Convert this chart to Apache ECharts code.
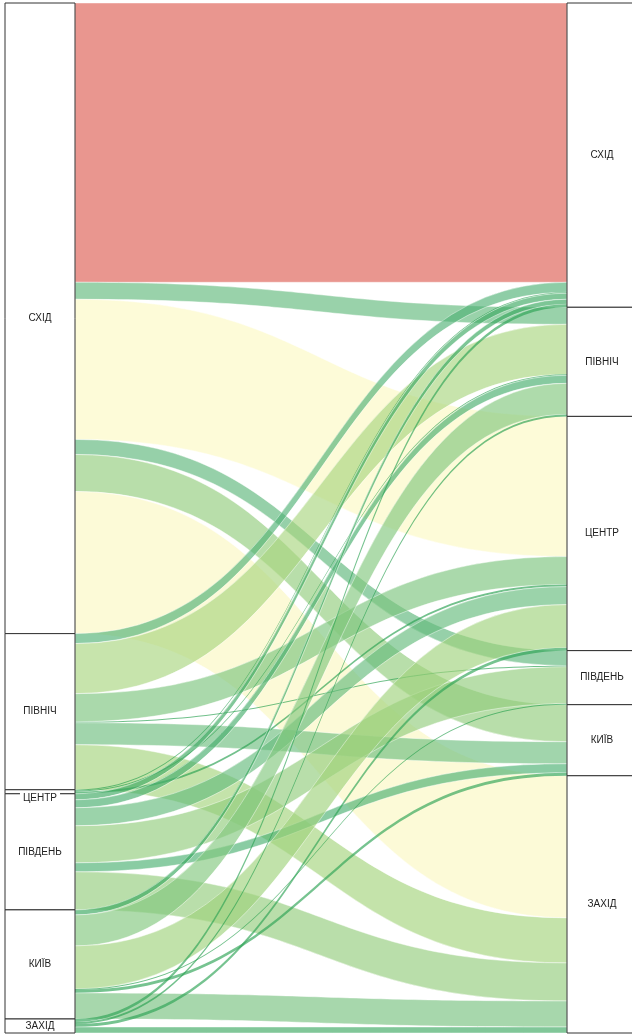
<!DOCTYPE html>
<html>
<head>
<meta charset="utf-8">
<script src="https://cdn.jsdelivr.net/npm/echarts@6/dist/echarts.min.js"></script>
<style>
html,body{margin:0;padding:0;background:#fff;}
#chart{width:632px;height:1035px;}
</style>
</head>
<body>
<div id="chart"></div>
<script>
// Regions (same order on both sides)
const categories = ['СХІД', 'ПІВНІЧ', 'ЦЕНТР', 'ПІВДЕНЬ', 'КИЇВ', 'ЗАХІД'];
// Flow values from each left region to each right region (order = categories)
const fromEast   = [279, 17, 140, 15, 37, 142];
const fromNorth  = [10, 50, 28, 1, 22, 45];
const fromCenter = [1, 1, 2, 0, 0, 0];
const fromSouth  = [6, 8, 18, 37, 9, 38];
const fromKyiv   = [5, 31, 43, 1, 3, 26];
const fromWest   = [3, 2, 3, 0, 0, 6];
const flowRows = [fromEast, fromNorth, fromCenter, fromSouth, fromKyiv, fromWest];

// colour scale (displayed colour on white) by value
const colorStops = [
  [1, [112, 192, 138]],
  [10, [142, 205, 166]],
  [20, [158, 212, 172]],
  [45, [196, 227, 170]],
  [140, [253, 251, 216]],
  [280, [233, 149, 143]]
];
const ALPHA = 0.65;
function colorFor(v) {
  let c;
  if (v <= colorStops[0][0]) c = colorStops[0][1];
  else if (v >= colorStops[colorStops.length - 1][0]) c = colorStops[colorStops.length - 1][1];
  else {
    for (let i = 0; i < colorStops.length - 1; i++) {
      const a = colorStops[i], b = colorStops[i + 1];
      if (v >= a[0] && v <= b[0]) {
        const t = (v - a[0]) / (b[0] - a[0]);
        c = a[1].map((x, k) => x + (b[1][k] - x) * t);
        break;
      }
    }
  }
  const base = c.map(x => Math.max(0, Math.min(255, Math.round(255 - (255 - x) / ALPHA))));
  return 'rgba(' + base.join(',') + ',' + ALPHA + ')';
}

const nodes = [];
categories.forEach(c => {
  const n = { name: 'L:' + c };
  if (c === 'ЦЕНТР') {
    n.label = { offset: [0, 6], backgroundColor: '#ffffff', padding: [1, 3] };
  }
  nodes.push(n);
});
categories.forEach(c => nodes.push({ name: 'R:' + c }));
const links = [];
flowRows.forEach((row, i) => {
  row.forEach((v, j) => {
    if (v > 0) {
      links.push({
        source: 'L:' + categories[i],
        target: 'R:' + categories[j],
        value: v,
        lineStyle: {
          color: colorFor(v),
          opacity: 1,
          borderColor: 'rgba(255,255,255,0.55)',
          borderWidth: v > 3 ? 0.8 : 0
        }
      });
    }
  });
});

const chart = echarts.init(document.getElementById('chart'), null, { renderer: 'canvas' });
chart.setOption({
  animation: false,
  series: [{
    type: 'sankey',
    left: 5,
    right: -5,
    top: 3,
    bottom: 2,
    nodeWidth: 70,
    nodeGap: 0,
    layoutIterations: 0,
    draggable: false,
    emphasis: { disabled: true },
    data: nodes,
    links: links,
    itemStyle: { color: '#ffffff', borderColor: '#333333', borderWidth: 1 },
    label: {
      position: 'inside',
      color: '#222',
      fontSize: 10,
      fontFamily: '"Liberation Sans Narrow", "Liberation Sans", Arial, sans-serif',
      formatter: p => p.name.slice(2)
    },
    lineStyle: { curveness: 0.5 }
  }]
});
</script>
</body>
</html>
